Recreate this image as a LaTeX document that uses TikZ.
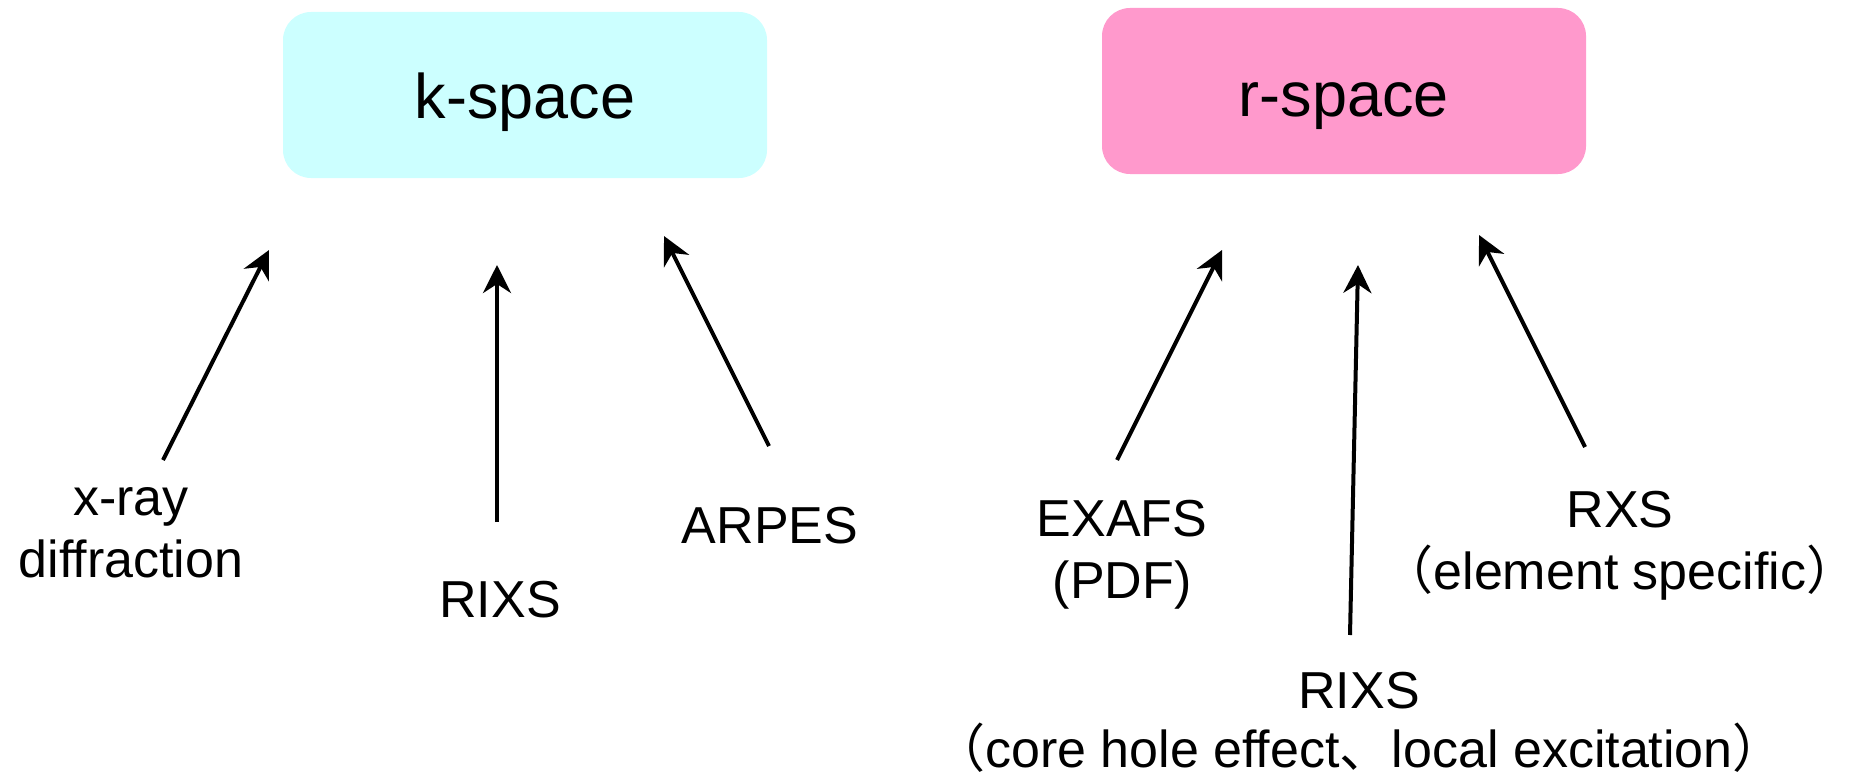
\documentclass[tikz,border=0pt]{standalone}
\usepackage{fontspec}
\setmainfont{Liberation Sans}
\newfontfamily\cjk{Noto Sans CJK JP}
\usetikzlibrary{arrows.meta}
\definecolor{kcyan}{HTML}{CCFFFF}
\definecolor{rpink}{HTML}{FF99CC}
\begin{document}
\begin{tikzpicture}[x=0.5pt,y=-0.5pt,
  spacebox/.style={rounded corners=14pt, minimum width=242pt, minimum height=83pt,
    inner sep=0pt, text depth=0pt, font=\fontsize{31.5}{38}\selectfont},
  lbl/.style={font=\fontsize{26}{31}\selectfont, align=center, inner sep=0pt, anchor=base},
  arr/.style={line width=2pt, -{Stealth[length=14pt,width=14pt,inset=4.5pt]}}]
\useasboundingbox (0,0) rectangle (1856,781);
% boxes
\node[spacebox, fill=kcyan, text height=23.5pt] (k) at (525,95) {k-space};
\node[spacebox, fill=rpink, text height=26pt] (r) at (1344,91) {r-space\hspace{18pt}};
% labels (anchor base = baseline of the last line)
\node[lbl] (xray) at (131,577) {x-ray\\diffraction};
\node[lbl] (rixsk) at (500,617) {RIXS};
\node[lbl] (arpes) at (770,543) {ARPES};
\node[lbl] (exafs) at (1122,598) {EXAFS\\(PDF)};
\node[lbl] (rxs) at (1620,589) {RXS\\{\cjk （}element specific{\cjk ）}};
\node[lbl, font=\fontsize{26}{29.5}\selectfont] (rixsr) at (1359,767) {RIXS\\{\cjk （}core hole effect{\cjk 、}local excitation{\cjk ）}};
% arrow end points
\coordinate (a1s) at (163,460); \coordinate (a1e) at (269,250);
\coordinate (a2s) at (497,522); \coordinate (a2e) at (497,265);
\coordinate (a3s) at (769,446); \coordinate (a3e) at (664,236);
\coordinate (a4s) at (1117,460); \coordinate (a4e) at (1222,250);
\coordinate (a5s) at (1350,635); \coordinate (a5e) at (1358,265);
\coordinate (a6s) at (1585,447); \coordinate (a6e) at (1479,235);
\draw[arr] (a1s) -- (a1e);
\draw[arr] (a2s) -- (a2e);
\draw[arr] (a3s) -- (a3e);
\draw[arr] (a4s) -- (a4e);
\draw[arr] (a5s) -- (a5e);
\draw[arr] (a6s) -- (a6e);
\end{tikzpicture}
\end{document}
